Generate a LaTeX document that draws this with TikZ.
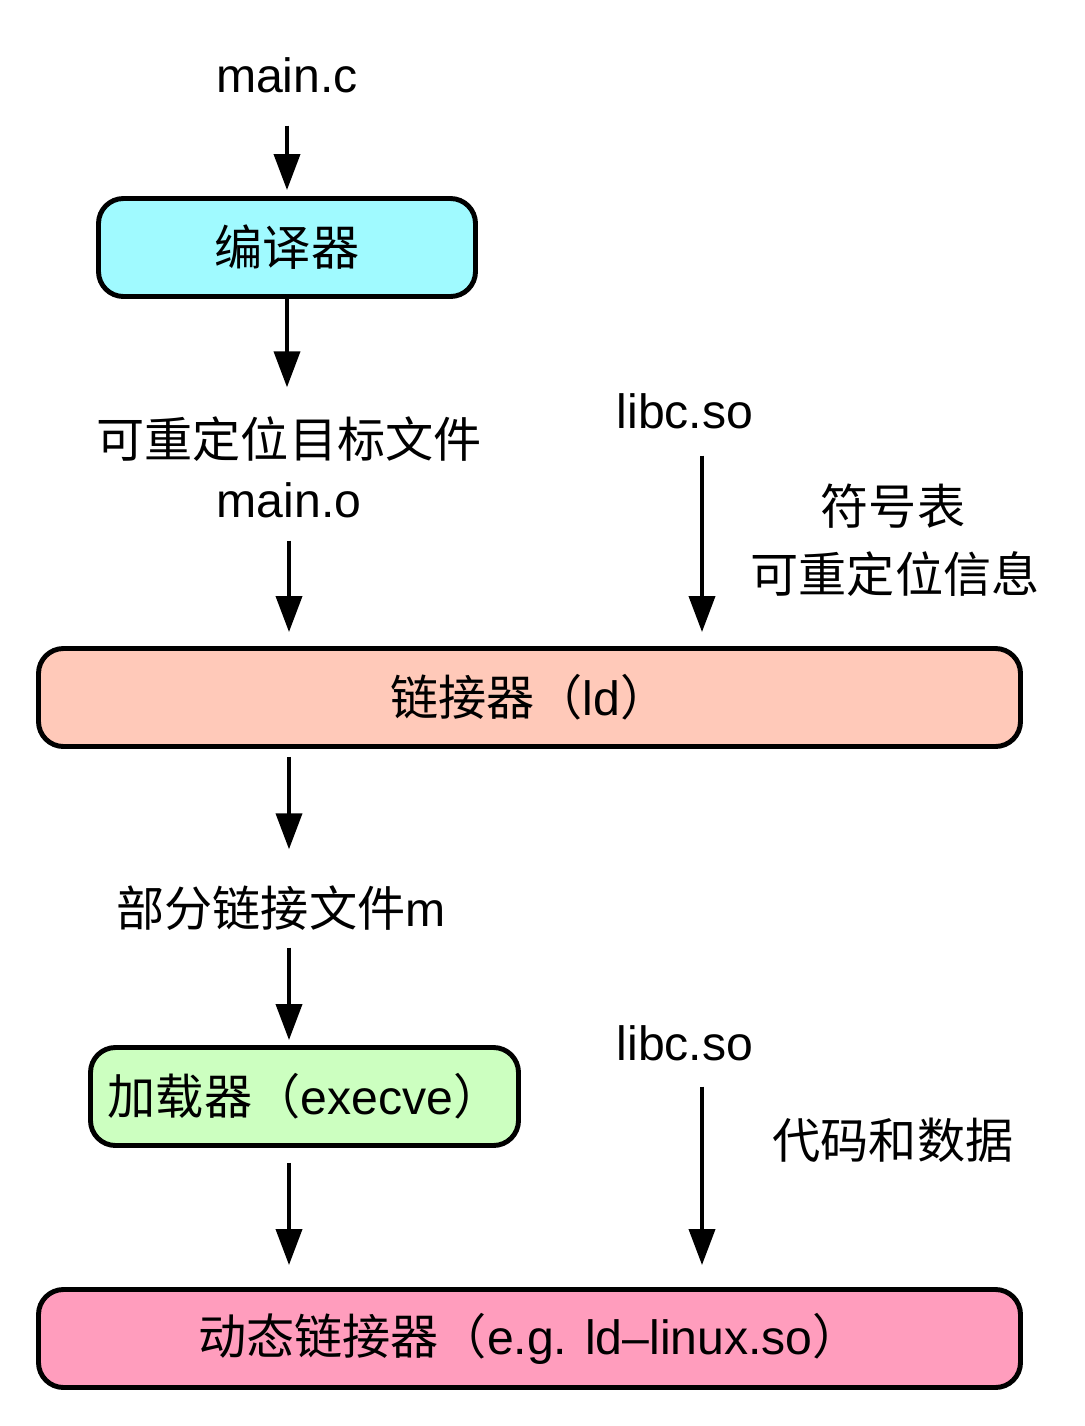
\documentclass[tikz,border=0pt]{standalone}
\usepackage{fontspec}
\setmainfont{Liberation Sans}
\newfontfamily\cjk{Noto Sans CJK SC}
\usetikzlibrary{arrows.meta}
\definecolor{compcyan}{RGB}{160,250,255}
\definecolor{linksalmon}{RGB}{255,201,185}
\definecolor{loadgreen}{RGB}{204,255,192}
\definecolor{dynpink}{RGB}{255,157,189}

\begin{document}
\begin{tikzpicture}[font=\fontsize{13.7pt}{16pt}\selectfont,
				   box/.style={draw=black, line width=1.4pt, rounded corners=0.25cm, minimum height=0.98cm, inner sep=0pt},
				   lbl/.style={anchor=base, inner sep=0pt, text height=0.4cm, text depth=0.1cm},
				   arr/.style={line width=1.1pt, -{Triangle[length=0.36cm, width=0.26cm]}}]
\useasboundingbox (0,0) rectangle (10.84,-14.26);

% compile
\node[lbl] (mainc) at (2.87,-0.93) {main.c};
\node[box, fill=compcyan, minimum width=3.77cm] (cc) at (2.87,-2.475) {\cjk 编译器};
\node[lbl] (reloc) at (2.89,-4.57) {\cjk 可重定位目标文件};
\node[lbl] (maino) at (2.89,-5.17) {main.o};

% static link
\node[lbl] (libca) at (6.85,-4.28) {libc.so};
\node[lbl] (symtab) at (8.93,-5.24) {\cjk 符号表};
\node[lbl] (relinfo) at (8.95,-5.92) {\cjk 可重定位信息};
\node[box, fill=linksalmon, minimum width=9.82cm] (ld) at (5.295,-6.975) {{\cjk 链接器（}ld{\cjk ）}};
\node[lbl] (partial) at (2.81,-9.26) {{\cjk 部分链接文件}m};

% load
\node[box, fill=loadgreen, minimum width=4.28cm] (exec) at (3.045,-10.965) {{\cjk 加载器（}execve{\cjk ）}};
\node[lbl] (libcb) at (6.85,-10.60) {libc.so};
\node[lbl] (codedata) at (8.93,-11.58) {\cjk 代码和数据};
\node[box, fill=dynpink, minimum width=9.82cm] (dyn) at (5.295,-13.385) {{\cjk 动态链接器（}e.g. ld–linux.so{\cjk ）}};

\draw[arr, shorten <=0.22cm, shorten >=0.06cm] (mainc.south) -- (mainc.south |- cc.north);
\draw[arr, shorten >=0.29cm] (cc.south) -- (cc.south |- reloc.north);
\draw[arr, shorten <=0.13cm, shorten >=0.14cm] (maino.south) -- (maino.south |- ld.north);
\draw[arr, shorten <=0.17cm, shorten >=0.14cm] ([xshift=0.17cm]libca.south) -- ([xshift=0.17cm]libca.south |- ld.north);
\draw[arr, shorten <=0.08cm, shorten >=0.36cm] (maino.south |- ld.south) -- (maino.south |- partial.north);
\draw[arr, shorten <=0.11cm, shorten >=0.05cm] (maino.south |- partial.south) -- (maino.south |- exec.north);
\draw[arr, shorten <=0.15cm, shorten >=0.22cm] (maino.south |- exec.south) -- (maino.south |- dyn.north);
\draw[arr, shorten <=0.16cm, shorten >=0.22cm] ([xshift=0.17cm]libcb.south) -- ([xshift=0.17cm]libcb.south |- dyn.north);
\end{tikzpicture}
\end{document}
